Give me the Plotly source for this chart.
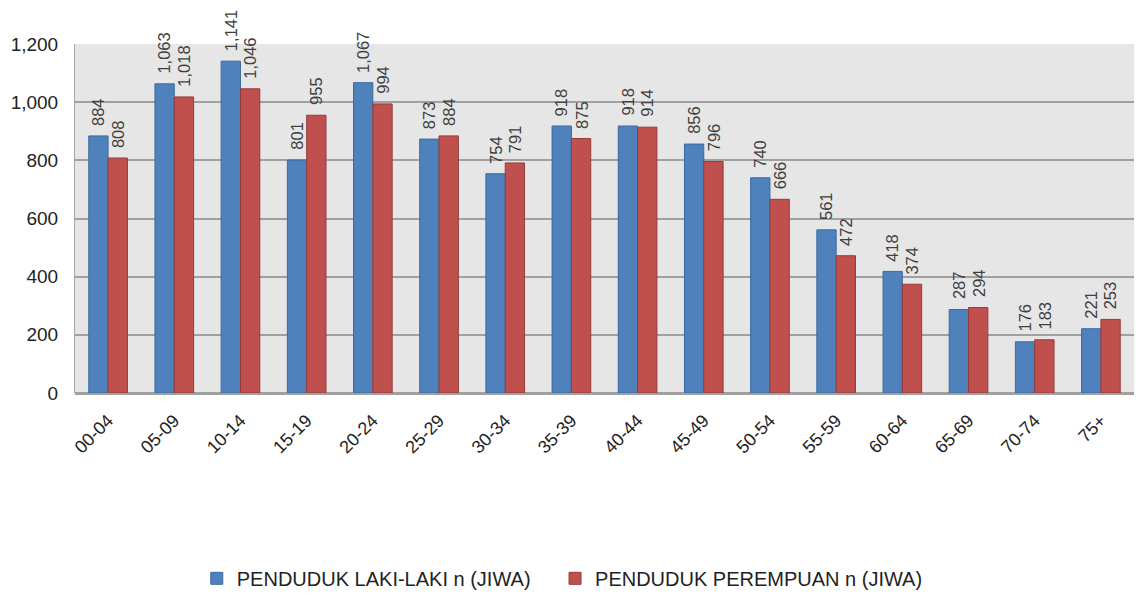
import plotly.graph_objects as go

age_groups = ['00-04', '05-09', '10-14', '15-19', '20-24', '25-29', '30-34', '35-39',
              '40-44', '45-49', '50-54', '55-59', '60-64', '65-69', '70-74', '75+']
laki_laki = [884, 1063, 1141, 801, 1067, 873, 754, 918, 918, 856, 740, 561, 418, 287, 176, 221]
perempuan = [808, 1018, 1046, 955, 994, 884, 791, 875, 914, 796, 666, 472, 374, 294, 183, 253]

font_family = 'Liberation Sans, Arial, sans-serif'
label_font = dict(size=16.5, color='#404040', family=font_family)

fig = go.Figure()
fig.add_trace(go.Bar(
    x=age_groups, y=laki_laki, name='PENDUDUK LAKI-LAKI n (JIWA)',
    marker=dict(color='#4f81bd', line=dict(color='#3b6aa0', width=1)),
    legend='legend'))
fig.add_trace(go.Bar(
    x=age_groups, y=perempuan, name='PENDUDUK PEREMPUAN n (JIWA)',
    marker=dict(color='#c0504d', line=dict(color='#943c3a', width=1)),
    legend='legend2'))

# vertical value labels above each bar
for series, shift in [(laki_laki, -10), (perempuan, 10)]:
    for cat, val in zip(age_groups, series):
        fig.add_annotation(x=cat, y=val, text=f'{val:,}', textangle=-90,
                           xref='x', yref='y', showarrow=False,
                           xanchor='center', yanchor='bottom',
                           xshift=shift, yshift=8, font=label_font)

legend_style = dict(orientation='h', xanchor='left', y=-0.531, yanchor='middle',
                    font=dict(size=20, color='#222222'), bgcolor='rgba(0,0,0,0)')

# page body has an 8px default margin, so the figure is sized to fit inside it
fig.update_layout(
    width=1126, height=586,
    margin=dict(l=67, r=0, t=36, b=201, autoexpand=False),
    paper_bgcolor='white', plot_bgcolor='#e6e6e6',
    barmode='group', bargap=0.416, bargroupgap=0,
    font=dict(family=font_family, color='#333333'),
    legend=dict(x=0.115, **legend_style),
    legend2=dict(x=0.4533, **legend_style),
    showlegend=True,
)
fig.update_xaxes(
    type='category',
    tickangle=-45, tickfont=dict(size=18, color='#222222'),
    showline=False, ticks='outside', ticklen=9, tickcolor='rgba(0,0,0,0)')
fig.update_yaxes(
    range=[0, 1200], dtick=200, tickformat=',d',
    tickfont=dict(size=19, color='#222222'),
    showgrid=True, gridcolor='#a0a0a0', gridwidth=1.5,
    zeroline=True, zerolinecolor='#a0a0a0', zerolinewidth=2.5,
    showline=True, linecolor='#a6a6a6', linewidth=1, mirror=True,
    ticks='outside', ticklen=12, tickcolor='rgba(0,0,0,0)')

fig.write_html('out.html')
